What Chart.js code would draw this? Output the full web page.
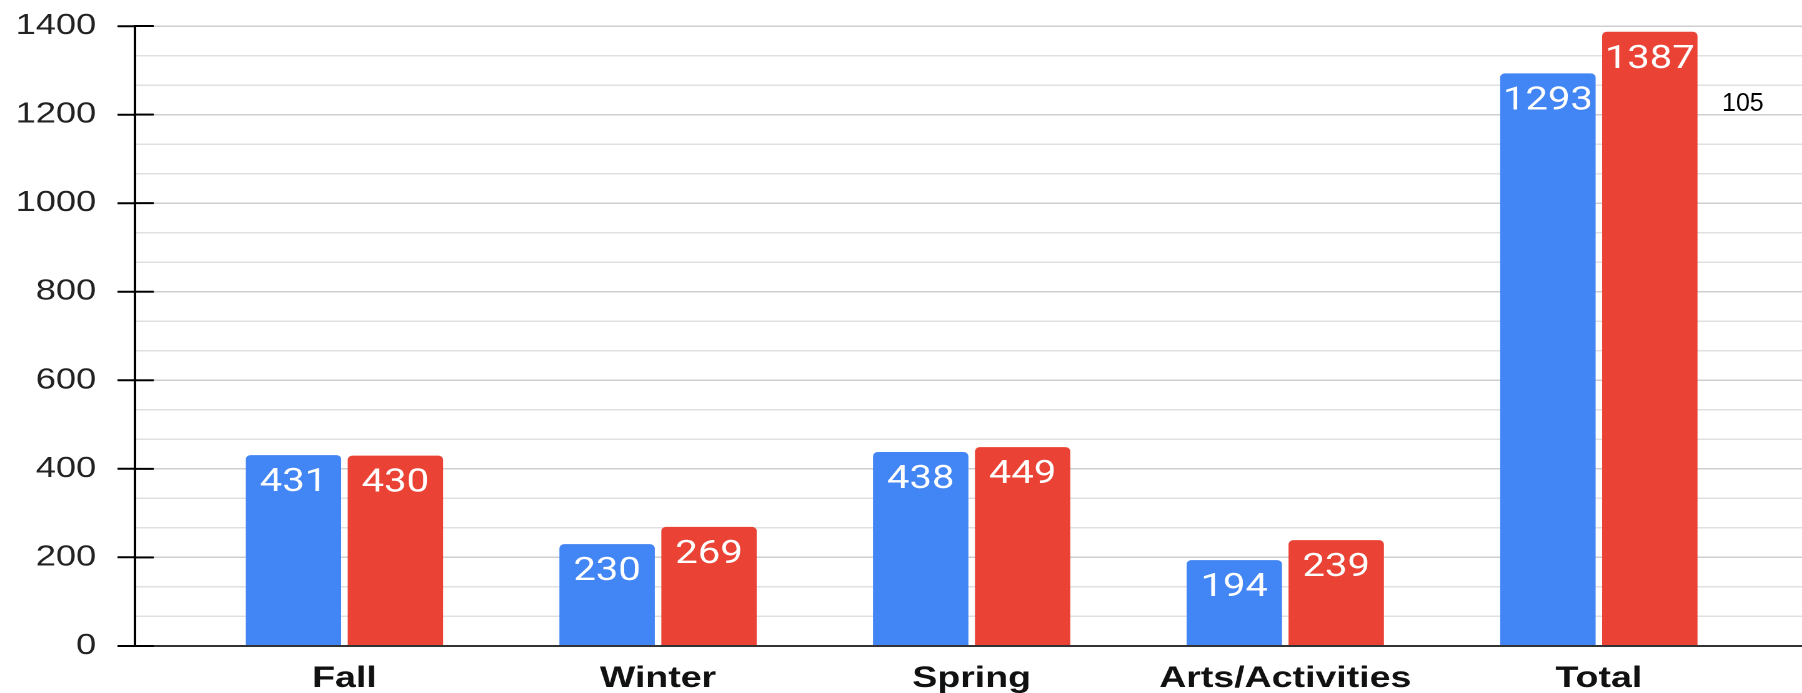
<!DOCTYPE html>
<html>
<head>
<meta charset="utf-8">
<script src="https://cdn.jsdelivr.net/npm/chart.js@4.4.1/dist/chart.umd.min.js"></script>
<style>
  html, body { margin: 0; padding: 0; background: #fff; }
  #wrap { position: relative; width: 1802px; height: 693px; overflow: hidden; }
  /* the source picture is stretched sideways, so the canvas is too */
  #chart { position: absolute; left: 0; top: 0; width: 1442px; height: 693px; transform: scaleX(1.2497); transform-origin: 0 0; }
  #note { position: absolute; left: 1722px; top: 90px; font: 25px 'Liberation Sans', Arial, sans-serif; line-height: 25px; color: #000; }
</style>
</head>
<body>
<div id="wrap">
  <canvas id="chart" width="1442" height="693"></canvas>
  <div id="note"></div>
</div>
<script>
let categories = ["Fall", "Winter", "Spring", "Arts/Activities", "Total"];
let blueValues = [431, 230, 438, 194, 1293];
let redValues = [430, 269, 449, 239, 1387];
let yTickLabels = [0, 200, 400, 600, 800, 1000, 1200, 1400];
let minorPerMajor = 3;
let noteText = "105";

document.getElementById("note").textContent = noteText;

// white value labels inside the top of each bar
const barLabels = {
    id: 'barLabels',
    afterDatasetsDraw(chart) {
        const ctx = chart.ctx;
        ctx.save();
        ctx.font = '32px Roboto, "Noto Sans", sans-serif';
        ctx.fillStyle = '#ffffff';
        ctx.textAlign = 'center';
        ctx.textBaseline = 'alphabetic';
        chart.data.datasets.forEach(function (ds, di) {
            chart.getDatasetMeta(di).data.forEach(function (bar, i) {
                ctx.fillText(String(ds.data[i].y), bar.x, bar.y + 36);
            });
        });
        ctx.restore();
    }
};

// the y axis ticks cross the axis line, draw the inner half
const innerTicks = {
    id: 'innerTicks',
    afterDraw(chart) {
        const y = chart.scales.y, ctx = chart.ctx, left = chart.chartArea.left;
        ctx.save();
        ctx.strokeStyle = '#000';
        ctx.lineWidth = 2;
        yTickLabels.forEach(function (v) {
            const py = y.getPixelForValue(v);
            ctx.beginPath();
            ctx.moveTo(left, py);
            ctx.lineTo(left + 15, py);
            ctx.stroke();
        });
        ctx.restore();
    }
};

let myBarChart = new Chart(document.getElementById("chart"), {
    type: 'bar',
    data: {
        datasets: [{
            label: "Blue",
            data: blueValues.map((v, i) => ({ x: i, y: v })),
            backgroundColor: '#4285f4'
        },
        {
            label: "Red",
            data: redValues.map((v, i) => ({ x: i, y: v })),
            backgroundColor: '#ea4335'
        }]
    },
    options: {
        responsive: false,
        animation: false,
        devicePixelRatio: 2,
        layout: { padding: { top: 26, left: 0, right: 0, bottom: 0 } },
        plugins: {
            legend: { display: false },
            tooltip: { enabled: false }
        },
        datasets: {
            bar: {
                categoryPercentage: 0.65,
                barPercentage: 0.936,
                borderRadius: 4,
                borderSkipped: 'start'
            }
        },
        scales: {
            x: {
                type: 'linear',
                min: -0.668,
                max: 4.648,
                offset: false,
                grid: { display: false, offset: false },
                border: { display: false },
                afterBuildTicks: function (scale) {
                    scale.ticks = categories.map((c, i) => ({ value: i }));
                },
                afterFit: function (scale) { scale.height = 47; },
                ticks: {
                    autoSkip: false,
                    maxRotation: 0,
                    padding: 6.5,
                    color: '#111',
                    font: { family: '"Liberation Sans", Arial, sans-serif', size: 30, weight: 'bold' },
                    callback: function (value) { return categories[value]; }
                }
            },
            y: {
                min: yTickLabels[0],
                max: yTickLabels[yTickLabels.length - 1],
                afterBuildTicks: function (scale) {
                    let ticks = [];
                    let step = yTickLabels[1] - yTickLabels[0];
                    for (let i = 0; i < yTickLabels.length - 1; i++) {
                        for (let j = 0; j < minorPerMajor; j++) {
                            ticks.push({ value: yTickLabels[i] + j * step / minorPerMajor });
                        }
                    }
                    ticks.push({ value: yTickLabels[yTickLabels.length - 1] });
                    scale.ticks = ticks;
                },
                afterFit: function (scale) {
                    scale.width = 108;
                    scale.paddingTop = 0;
                    scale.paddingBottom = 0;
                },
                border: { display: true, color: '#000', width: 2 },
                grid: {
                    color: c => c.index === 0 ? '#333333' : (c.index % minorPerMajor === 0 ? '#cfcfcf' : '#e0e0e0'),
                    lineWidth: c => c.index === 0 ? 2 : 1.5,
                    tickColor: c => c.index % minorPerMajor === 0 ? '#000' : 'rgba(0,0,0,0)',
                    tickWidth: 2,
                    tickLength: 14
                },
                ticks: {
                    autoSkip: false,
                    padding: 17,
                    color: '#222',
                    font: { family: '"Liberation Sans", Arial, sans-serif', size: 29 },
                    callback: function (value, index) {
                        return index % minorPerMajor === 0 ? yTickLabels[index / minorPerMajor] : '';
                    }
                }
            }
        }
    },
    plugins: [barLabels, innerTicks]
});
</script>
</body>
</html>
